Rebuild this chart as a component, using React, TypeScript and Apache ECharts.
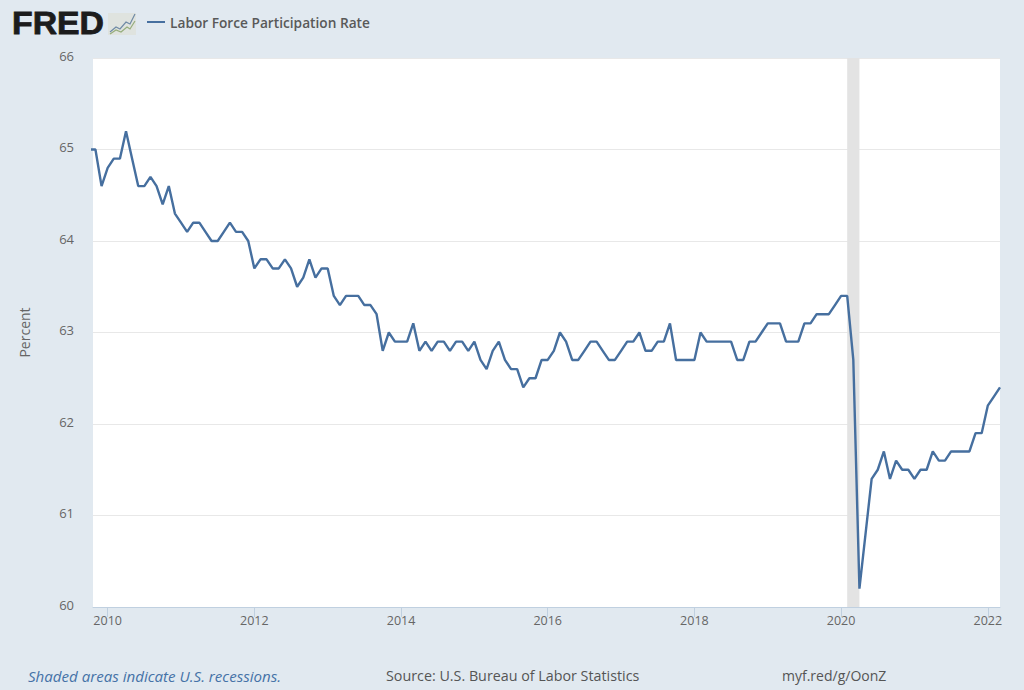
import React, { useEffect, useRef } from "react";
import * as echarts from "echarts";

const seriesName = "Labor Force Participation Rate";
const startYear = 2009;
const startMonth = 9; // October
const values2009 = [65.0, 65.0, 64.6];
const values2010 = [64.8, 64.9, 64.9, 65.2, 64.9, 64.6, 64.6, 64.7, 64.6, 64.4, 64.6, 64.3];
const values2011 = [64.2, 64.1, 64.2, 64.2, 64.1, 64.0, 64.0, 64.1, 64.2, 64.1, 64.1, 64.0];
const values2012 = [63.7, 63.8, 63.8, 63.7, 63.7, 63.8, 63.7, 63.5, 63.6, 63.8, 63.6, 63.7];
const values2013 = [63.7, 63.4, 63.3, 63.4, 63.4, 63.4, 63.3, 63.3, 63.2, 62.8, 63.0, 62.9];
const values2014 = [62.9, 62.9, 63.1, 62.8, 62.9, 62.8, 62.9, 62.9, 62.8, 62.9, 62.9, 62.8];
const values2015 = [62.9, 62.7, 62.6, 62.8, 62.9, 62.7, 62.6, 62.6, 62.4, 62.5, 62.5, 62.7];
const values2016 = [62.7, 62.8, 63.0, 62.9, 62.7, 62.7, 62.8, 62.9, 62.9, 62.8, 62.7, 62.7];
const values2017 = [62.8, 62.9, 62.9, 63.0, 62.8, 62.8, 62.9, 62.9, 63.1, 62.7, 62.7, 62.7];
const values2018 = [62.7, 63.0, 62.9, 62.9, 62.9, 62.9, 62.9, 62.7, 62.7, 62.9, 62.9, 63.0];
const values2019 = [63.1, 63.1, 63.1, 62.9, 62.9, 62.9, 63.1, 63.1, 63.2, 63.2, 63.2, 63.3];
const values2020 = [63.4, 63.4, 62.7, 60.2, 60.8, 61.4, 61.5, 61.7, 61.4, 61.6, 61.5, 61.5];
const values2021 = [61.4, 61.5, 61.5, 61.7, 61.6, 61.6, 61.7, 61.7, 61.7, 61.7, 61.9, 61.9];
const values2022 = [62.2, 62.3, 62.4];
const allValues = [
  ...values2009, ...values2010, ...values2011, ...values2012, ...values2013,
  ...values2014, ...values2015, ...values2016, ...values2017, ...values2018,
  ...values2019, ...values2020, ...values2021, ...values2022,
];
const tickYears = [2010, 2012, 2014, 2016, 2018, 2020, 2022];
const yTicks = [60, 61, 62, 63, 64, 65, 66];
const recessionStart = 2020 + 1 / 12;
const recessionEnd = 2020 + 3 / 12;
const axisStart = 2009.8;
const axisEnd = 2022 + 2 / 12;

const FONT = '"Open Sans", "Noto Sans", sans-serif';

export default function App() {
  const ref = useRef<HTMLDivElement>(null);
  useEffect(() => {
    const chart = echarts.init(ref.current!, null, { renderer: "svg" });
    const points = allValues.map((v, i) => [startYear + (startMonth + i) / 12, v]);
    chart.setOption({
      animation: false,
      backgroundColor: "#e1e9f0",
      textStyle: { fontFamily: FONT },
      grid: {
        show: true,
        backgroundColor: "#ffffff",
        borderWidth: 0,
        left: 93,
        right: 24,
        top: 58,
        bottom: 83,
      },
      legend: {
        show: true,
        left: 142,
        top: 10,
        itemWidth: 18,
        itemHeight: 2,
        itemGap: 6,
        icon: "rect",
        data: [seriesName],
        textStyle: { color: "#595959", fontSize: 13.7, fontWeight: 600, fontFamily: FONT },
      },
      xAxis: {
        type: "value",
        min: axisStart,
        max: axisEnd,
        axisLine: { show: true, lineStyle: { color: "#c0d0e0", width: 1 } },
        axisTick: { show: true, length: 10, customValues: tickYears, lineStyle: { color: "#c0d0e0" } },
        axisLabel: {
          customValues: tickYears,
          color: "#666666",
          fontSize: 12.5,
          margin: 7,
          showMinLabel: true,
          showMaxLabel: true,
          fontFamily: FONT,
          formatter: (v: number) => String(v),
        },
        splitLine: { show: false },
      },
      yAxis: {
        type: "value",
        min: yTicks[0],
        max: yTicks[yTicks.length - 1],
        interval: 1,
        name: "Percent",
        nameLocation: "middle",
        nameGap: 62,
        nameTextStyle: { color: "#666666", fontSize: 14, fontFamily: FONT },
        axisLine: { show: false },
        axisTick: { show: false },
        axisLabel: {
          color: "#666666",
          fontSize: 13,
          margin: 19,
          verticalAlign: "bottom",
          lineHeight: 5,
          fontFamily: FONT,
        },
        splitLine: { show: true, lineStyle: { color: "#e8e8e8", width: 1 } },
      },
      series: [
        {
          name: seriesName,
          type: "line",
          data: points,
          symbol: "none",
          lineStyle: { color: "#466f9f", width: 2.4 },
          itemStyle: { color: "#466f9f" },
          markArea: {
            silent: true,
            itemStyle: { color: "#e3e3e3" },
            data: [[{ xAxis: recessionStart }, { xAxis: recessionEnd }]],
          },
        },
      ],
      graphic: [
        {
          type: "text",
          x: 12,
          y: 8,
          scaleX: 1.09,
          style: {
            text: "FRED",
            fill: "#1c1c1c",
            stroke: "#1c1c1c",
            lineWidth: 0.8,
            font: 'bold 31px "Liberation Sans"',
          },
        },
        {
          type: "rect",
          shape: { x: 108, y: 13, width: 28, height: 22 },
          style: { fill: "#dfe3df" },
        },
        {
          type: "polyline",
          shape: { points: [[110, 32], [116, 27], [120, 29], [126, 22], [130, 24], [135, 14]] },
          style: { stroke: "#6f8aa5", fill: "none", lineWidth: 1.2 },
        },
        {
          type: "polyline",
          shape: { points: [[110, 34], [116, 30], [121, 32], [127, 27], [130, 29], [135, 21]] },
          style: { stroke: "#96ad7c", fill: "none", lineWidth: 1.2 },
        },
        {
          type: "text",
          x: 28,
          y: 668,
          style: { text: "Shaded areas indicate U.S. recessions.", fill: "#4572a7", font: `italic 15.1px ${FONT}` },
        },
        {
          type: "text",
          x: 386,
          y: 668,
          style: { text: "Source: U.S. Bureau of Labor Statistics", fill: "#555555", font: `14.3px ${FONT}` },
        },
        {
          type: "text",
          x: 782,
          y: 668,
          style: { text: "myf.red/g/OonZ", fill: "#555555", font: `14px ${FONT}` },
        },
      ],
    });
    return () => chart.dispose();
  }, []);
  return (
    <div
      ref={ref}
      style={{ position: "absolute", left: 0, top: 0, width: 1024, height: 690 }}
    />
  );
}
